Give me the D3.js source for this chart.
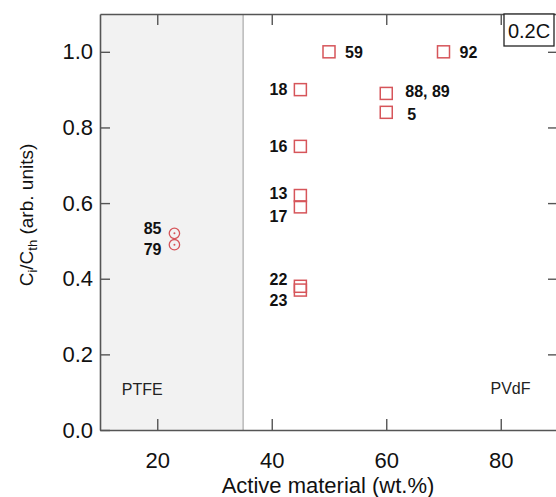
<!DOCTYPE html>
<html>
<head>
<meta charset="utf-8">
<script src="https://cdn.jsdelivr.net/npm/d3@7"></script>
<style>
  html, body { margin: 0; padding: 0; background: #fff; }
  svg { display: block; font-family: "Liberation Sans", Arial, Helvetica, sans-serif; }
</style>
</head>
<body>
<svg id="chart" width="556" height="497"></svg>
<script>
// Capacity ratio vs. active material content for PTFE- and PVdF-bound electrodes
const sampleLabels = ["59", "92", "18", "88, 89", "5", "16", "13", "17", "22", "23", "85", "79"];
const activeWt     = [50, 70, 45, 60, 60, 45, 45, 45, 45, 45, 23, 23];
const capRatio     = [1.00, 1.00, 0.90, 0.89, 0.84, 0.75, 0.62, 0.59, 0.38, 0.37, 0.52, 0.49];
const binderType   = ["PVdF", "PVdF", "PVdF", "PVdF", "PVdF", "PVdF", "PVdF", "PVdF", "PVdF", "PVdF", "PTFE", "PTFE"];
const xTicks = [20, 40, 60, 80];
const yTicks = [0.0, 0.2, 0.4, 0.6, 0.8, 1.0];
const xDomain = [10, 90];
const yDomain = [0, 1.1];
const binderBoundary = 35;
const rateLabel = "0.2C";

// label placement relative to each marker: [dx, dy, anchor]
const labelPlacement = {
  "59": [16, 0, "start"], "92": [16, 0, "start"], "18": [-13, 0, "end"],
  "88, 89": [19, -2, "start"], "5": [21, 2, "start"], "16": [-13, 0, "end"],
  "13": [-13, -2, "end"], "17": [-13, 9, "end"], "22": [-13, -7, "end"],
  "23": [-13, 10, "end"], "85": [-13, -5, "end"], "79": [-13, 5, "end"]
};

const svg = d3.select("#chart");
const plot = { left: 100, right: 558, top: 14, bottom: 430 };
const axisColor = "#555";
const markColor = "#d6555a";

const x = d3.scaleLinear().domain(xDomain).range([plot.left, plot.right]);
const y = d3.scaleLinear().domain(yDomain).range([plot.bottom, plot.top]);

// PTFE region shading and divider
svg.append("rect")
  .attr("x", x(xDomain[0])).attr("y", plot.top)
  .attr("width", x(binderBoundary) - x(xDomain[0]))
  .attr("height", plot.bottom - plot.top)
  .attr("fill", "#f2f2f2");
svg.append("line")
  .attr("x1", x(binderBoundary)).attr("x2", x(binderBoundary))
  .attr("y1", plot.top).attr("y2", plot.bottom)
  .attr("stroke", "#aaa").attr("stroke-width", 1.2);

function styleAxis(g) {
  g.select(".domain").attr("stroke", axisColor).attr("stroke-width", 1.6);
  g.selectAll(".tick line").attr("stroke", axisColor).attr("stroke-width", 1.4);
  g.selectAll(".tick text").attr("fill", "#111").attr("font-size", 22)
    .attr("font-family", "'Liberation Sans', Arial, sans-serif");
}

// axes with inward ticks on all four sides
svg.append("g").attr("transform", `translate(0,${plot.bottom})`)
  .call(d3.axisBottom(x).tickValues(xTicks).tickFormat(d3.format("d"))
    .tickSizeInner(-11).tickSizeOuter(0).tickPadding(22))
  .call(styleAxis);
svg.append("g").attr("transform", `translate(0,${plot.top})`)
  .call(d3.axisTop(x).tickValues(xTicks).tickFormat("")
    .tickSizeInner(-11).tickSizeOuter(0))
  .call(styleAxis);
svg.append("g").attr("transform", `translate(${plot.left},0)`)
  .call(d3.axisLeft(y).tickValues(yTicks).tickFormat(d3.format(".1f"))
    .tickSizeInner(-10).tickSizeOuter(0).tickPadding(7))
  .call(styleAxis);
svg.append("g").attr("transform", `translate(${plot.right},0)`)
  .call(d3.axisRight(y).tickValues(yTicks.filter(d => d > 0)).tickFormat("")
    .tickSizeInner(-10).tickSizeOuter(0))
  .call(styleAxis);

// axis titles
svg.append("text")
  .attr("x", 328).attr("y", 493)
  .attr("text-anchor", "middle").attr("font-size", 22).attr("fill", "#111")
  .text("Active material (wt.%)");
const yTitle = svg.append("text")
  .attr("transform", "translate(33,215) rotate(-90)")
  .attr("text-anchor", "middle").attr("font-size", 19).attr("fill", "#111");
yTitle.append("tspan").text("C");
yTitle.append("tspan").attr("font-size", 13).attr("dy", 4).text("i");
yTitle.append("tspan").attr("dy", -4).text("/C");
yTitle.append("tspan").attr("font-size", 13).attr("dy", 4).text("th");
yTitle.append("tspan").attr("dy", -4).text(" (arb. units)");

// binder annotations
svg.append("text").attr("x", x(13.8)).attr("y", 395)
  .attr("font-size", 16).attr("fill", "#222").text("PTFE");
svg.append("text").attr("x", x(81.7)).attr("y", 394)
  .attr("text-anchor", "middle").attr("font-size", 16).attr("fill", "#222").text("PVdF");

// C-rate box
const rateBox = svg.append("g");
rateBox.append("rect").attr("x", 504).attr("y", 14).attr("width", 50).attr("height", 32)
  .attr("fill", "#fff").attr("stroke", "#222").attr("stroke-width", 1.3);
rateBox.append("text").attr("x", 529).attr("y", 38).attr("text-anchor", "middle")
  .attr("font-size", 20).attr("fill", "#111").text(rateLabel);

// markers
const points = sampleLabels.map((lab, i) => ({
  label: lab, wt: activeWt[i], ratio: capRatio[i], binder: binderType[i]
}));
const half = 6;
const marks = svg.append("g");
points.forEach(p => {
  const cx = x(p.wt), cy = y(p.ratio);
  if (p.binder === "PVdF") {
    marks.append("rect")
      .attr("x", cx - half).attr("y", cy - half)
      .attr("width", half * 2).attr("height", half * 2)
      .attr("fill", "none").attr("stroke", markColor).attr("stroke-width", 1.5);
  } else {
    marks.append("circle").attr("cx", cx).attr("cy", cy).attr("r", 5.2)
      .attr("fill", "none").attr("stroke", markColor).attr("stroke-width", 1.3);
    marks.append("circle").attr("cx", cx).attr("cy", cy).attr("r", 1)
      .attr("fill", markColor);
  }
});

// sample labels
const labels = svg.append("g");
points.forEach(p => {
  const [dx, dy, anchor] = labelPlacement[p.label];
  labels.append("text")
    .attr("x", x(p.wt) + dx).attr("y", y(p.ratio) + dy)
    .attr("dy", "0.36em").attr("text-anchor", anchor)
    .attr("font-size", 16).attr("font-weight", "bold").attr("fill", "#111")
    .text(p.label);
});
</script>
</body>
</html>
